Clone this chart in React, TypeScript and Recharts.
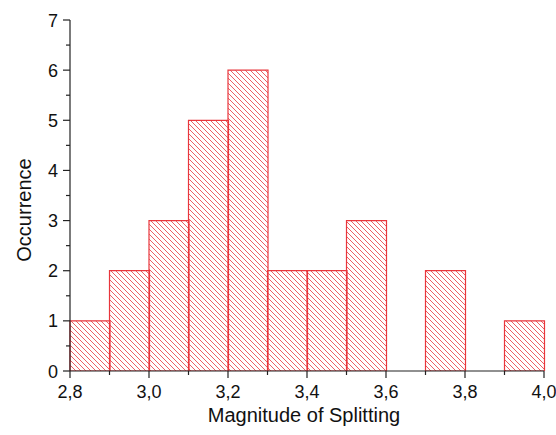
import * as React from "react";
import { BarChart, Bar, XAxis, YAxis } from "recharts";

// histogram bins (lower edge) and counts
const binStarts = [2.8, 2.9, 3.0, 3.1, 3.2, 3.3, 3.4, 3.5, 3.6, 3.7, 3.8, 3.9];
const binCenters = [2.85, 2.95, 3.05, 3.15, 3.25, 3.35, 3.45, 3.55, 3.65, 3.75, 3.85, 3.95];
const counts = [1, 2, 3, 5, 6, 2, 2, 3, 0, 2, 0, 1];

const xTicks = [2.8, 2.9, 3.0, 3.1, 3.2, 3.3, 3.4, 3.5, 3.6, 3.7, 3.8, 3.9, 4.0];
const yTicks = [0, 0.5, 1, 1.5, 2, 2.5, 3, 3.5, 4, 4.5, 5, 5.5, 6, 6.5, 7];

const data = binStarts.map((b, i) => ({
  bin: String(b),
  center: binCenters[i],
  count: counts[i],
}));

const RED = "#e8363c";
const FONT = "'Liberation Sans', Arial, Helvetica, sans-serif";

const XTick = (props: any) => {
  const { x, y, payload } = props;
  const major = Math.round(payload.value * 10) % 2 === 0;
  return (
    <g>
      <line x1={x} x2={x} y1={y} y2={y + (major ? 7 : 4)} stroke="#222" strokeWidth={1.2} />
      {major && (
        <text x={x} y={y + 27} textAnchor="middle" fontSize={18} fontFamily={FONT} fill="#111">
          {payload.value.toFixed(1).replace(".", ",")}
        </text>
      )}
    </g>
  );
};

const YTick = (props: any) => {
  const { x, y, payload } = props;
  const major = payload.value % 1 === 0;
  return (
    <g>
      <line x1={x} x2={x - (major ? 7 : 4)} y1={y} y2={y} stroke="#222" strokeWidth={1.2} />
      {major && (
        <text x={x - 12} y={y + 6.5} textAnchor="end" fontSize={18} fontFamily={FONT} fill="#111">
          {payload.value}
        </text>
      )}
    </g>
  );
};

const YLabel = () => {
  const cx = 31;
  const cy = 210;
  return (
    <text
      x={cx}
      y={cy}
      transform={`rotate(-90, ${cx}, ${cy})`}
      textAnchor="middle"
      fontSize={20}
      fontFamily={FONT}
      fill="#111"
    >
      Occurrence
    </text>
  );
};

const XLabel = () => (
  <text x={304} y={422} textAnchor="middle" fontSize={20} fontFamily={FONT} fill="#111">
    Magnitude of Splitting
  </text>
);

export default function App() {
  return (
    <div style={{ position: "absolute", left: 0, top: 0, width: 556, height: 435, background: "#fff" }}>
      <BarChart
        width={556}
        height={435}
        data={data}
        barCategoryGap={0}
        margin={{ top: 20, right: 12, bottom: 0, left: 0 }}
      >
        <defs>
          <pattern id="hatch" patternUnits="userSpaceOnUse" width={5} height={5}>
            <path d="M0,0 L5,5 M-1,4 L1,6 M4,-1 L6,1" stroke={RED} strokeWidth={0.8} />
          </pattern>
        </defs>
        <XAxis xAxisId="bins" dataKey="bin" type="category" hide height={0} />
        <XAxis
          xAxisId="scale"
          dataKey="center"
          type="number"
          domain={[2.8, 4.0]}
          ticks={xTicks}
          interval={0}
          height={64}
          tickSize={0}
          tickMargin={0}
          tickLine={false}
          tick={<XTick />}
          axisLine={{ stroke: "#222", strokeWidth: 1.2 }}
          label={<XLabel />}
          allowDataOverflow
        />
        <YAxis
          type="number"
          domain={[0, 7]}
          ticks={yTicks}
          interval={0}
          width={70}
          tickSize={0}
          tickMargin={0}
          tickLine={false}
          tick={<YTick />}
          axisLine={{ stroke: "#222", strokeWidth: 1.2 }}
          label={<YLabel />}
          allowDataOverflow
        />
        <Bar
          xAxisId="bins"
          dataKey="count"
          fill="url(#hatch)"
          stroke={RED}
          strokeWidth={1.2}
          isAnimationActive={false}
        />
      </BarChart>
    </div>
  );
}
